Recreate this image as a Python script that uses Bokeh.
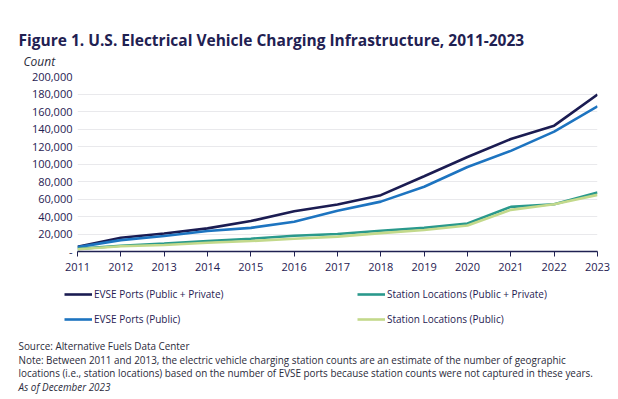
from bokeh.plotting import figure
from bokeh.models import (Label, Legend, LegendItem, FixedTicker, NumeralTickFormatter)
from bokeh.layouts import column
from bokeh.embed import file_html
from bokeh.resources import INLINE

years = [2011, 2012, 2013, 2014, 2015, 2016, 2017, 2018, 2019, 2020, 2021, 2022, 2023]
evse_total = [5500, 15700, 20500, 26400, 34800, 46000, 53700, 64400, 86000, 108000, 128500, 143800, 179500]
evse_public = [5000, 13000, 17700, 23400, 27000, 34000, 46500, 57000, 74000, 96600, 115000, 137000, 166000]
stations_total = [3000, 6600, 9000, 12000, 14600, 18000, 20000, 23700, 27000, 32000, 51000, 54000, 67500]
stations_public = [2500, 6000, 7500, 10000, 12000, 14500, 17000, 21000, 24500, 29800, 47600, 54000, 64700]
y_ticks = [0, 20000, 40000, 60000, 80000, 100000, 120000, 140000, 160000, 180000, 200000]

series_names = ["EVSE Ports (Public + Private)", "EVSE Ports (Public)",
                "Station Locations (Public + Private)", "Station Locations (Public)"]
colors = ["#1b1c52", "#1d74c0", "#2a998c", "#c3d98b"]

title_text = "Figure 1. U.S. Electrical Vehicle Charging Infrastructure, 2011-2023"
footer = [
    ("Source: Alternative Fuels Data Center", "normal"),
    ("Note: Between 2011 and 2013, the electric vehicle charging station counts are an estimate of the number of geographic", "normal"),
    ("locations (i.e., station locations) based on the number of EVSE ports because station counts were not captured in these years.", "normal"),
    ("As of December 2023", "italic"),
]

FONT = "Open Sans"
NAVY = "#1f2152"
TXT = "#2b2b3b"
W = 618


def text_fig(h):
    f = figure(width=W, height=h, output_backend="svg", toolbar_location=None,
               x_range=(0, W), y_range=(h, 0), x_axis_type=None, y_axis_type=None,
               min_border=0, frame_align=False)
    f.title_location = None
    f.outline_line_color = None
    f.grid.grid_line_color = None
    return f


# ---- top: title and unit label
top = text_fig(69)
top.add_layout(Label(x=18, y=39, text=title_text, text_font=FONT, text_font_size="15.5px",
                     text_font_style="bold", text_color=NAVY, text_baseline="alphabetic"))
top.add_layout(Label(x=23, y=61, text="Count", text_font=FONT, text_font_size="12px",
                     text_font_style="italic", text_color=TXT, text_baseline="alphabetic"))

# ---- main chart
p = figure(width=W, height=215, output_backend="svg", toolbar_location=None,
           x_range=(2011, 2023), y_range=(0, 200000),
           min_border_left=77, min_border_right=21, min_border_top=7, min_border_bottom=33,
           frame_align=False)
p.title_location = None
p.outline_line_color = None

for ys, c in zip([evse_total, evse_public, stations_total, stations_public], colors):
    p.line(years, ys, line_color=c, line_width=2.6)

p.xaxis.ticker = FixedTicker(ticks=years)
p.xaxis.axis_line_color = NAVY
p.xaxis.axis_line_width = 1.3
p.xaxis.major_tick_line_color = NAVY
p.xaxis.major_tick_in = 0
p.xaxis.major_tick_out = 5
p.xaxis.minor_tick_line_color = None
p.xaxis.major_label_text_font = FONT
p.xaxis.major_label_text_font_size = "11px"
p.xaxis.major_label_text_color = NAVY
p.xaxis.major_label_standoff = 6

p.yaxis.ticker = FixedTicker(ticks=y_ticks)
p.yaxis.formatter = NumeralTickFormatter(format="0,0")
p.yaxis.major_label_overrides = {0: "-"}
p.yaxis.axis_line_color = None
p.yaxis.major_tick_line_color = None
p.yaxis.major_tick_in = 0
p.yaxis.major_tick_out = 0
p.yaxis.minor_tick_line_color = None
p.yaxis.minor_tick_in = 0
p.yaxis.minor_tick_out = 0
p.yaxis.major_label_text_font = FONT
p.yaxis.major_label_text_font_size = "11px"
p.yaxis.major_label_text_color = NAVY
p.yaxis.major_label_standoff = 5

p.xgrid.grid_line_color = None
p.ygrid.grid_line_color = "#e9e9ec"
p.ygrid.grid_line_width = 1

# ---- bottom: legend and notes
bot = text_fig(115)
nan = float("nan")
keys = [bot.line([nan], [nan], line_color=c, line_width=2.6) for c in colors]


def make_legend(idx, loc):
    lg = Legend(items=[LegendItem(label=series_names[i], renderers=[keys[i]]) for i in idx],
                location=loc, orientation="vertical",
                glyph_width=28, glyph_height=20, label_height=20, spacing=5,
                label_standoff=2, padding=0, margin=0,
                label_text_font=FONT, label_text_font_size="10px", label_text_color=NAVY,
                border_line_color=None, background_fill_alpha=0)
    bot.add_layout(lg, "center")


make_legend([0, 1], (64, 70))
make_legend([2, 3], (357, 70))

for i, (t, st) in enumerate(footer):
    bot.add_layout(Label(x=18, y=61.5 + i * 13.6, text=t, text_font=FONT, text_font_size="9.9px",
                         text_font_style=st, text_color=TXT, text_baseline="alphabetic"))

layout = column(top, p, bot, spacing=0)
open("out.html", "w").write(file_html(layout, INLINE))
